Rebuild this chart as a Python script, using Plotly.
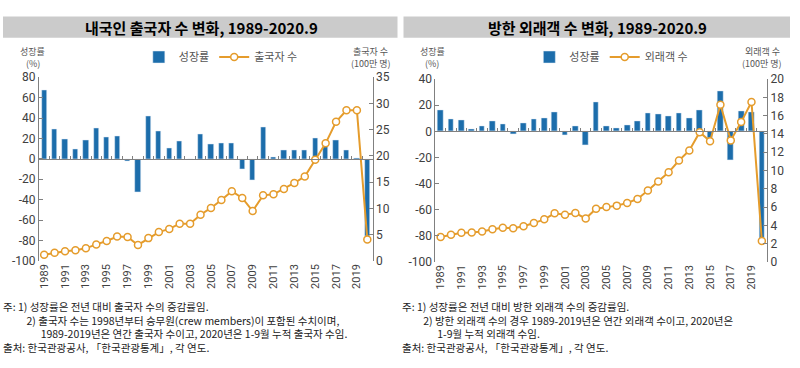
import plotly.graph_objects as go

# ---------------- data ----------------
years = list(range(1989, 2021))
year_ticks = list(range(1989, 2020, 2))
year_ticklabels = [str(y) for y in year_ticks]

out_growth = [67.5, 29, 19, 9.5, 18.5, 30.5, 21, 22, -2.5, -32.5, 41.5, 27, 10, 17, -0.5,
              24.5, 14.5, 15, 15, -10, -21, 31.5, 1.5, 8, 8, 8.5, 20.5, 15, 18.5, 8.5, 0.2, -76]
out_count = [1.2, 1.55, 1.85, 2.05, 2.4, 3.15, 3.8, 4.65, 4.55, 3.05, 4.35, 5.5, 6.1, 7.1, 7.1,
             8.8, 10.1, 11.6, 13.3, 12.0, 9.5, 12.5, 12.7, 13.7, 14.85, 16.1, 19.3, 22.4, 26.5,
             28.7, 28.7, 4.1]

in_growth = [16.5, 9, 8.5, 1.5, 4, 8, 5.5, -1.8, 6.5, 9.5, 10, 14.5, -3.2, 4, -10.5, 22.5, 4,
             2.5, 5, 7.5, 14, 13, 12, 14, 10, 16.5, -5, 30.5, -22, 15.5, 14.5, -83]
in_count = [2.73, 2.96, 3.2, 3.23, 3.33, 3.58, 3.75, 3.68, 3.91, 4.25, 4.66, 5.32, 5.15, 5.35,
            4.75, 5.82, 6.02, 6.16, 6.45, 6.89, 7.82, 8.8, 9.8, 11.1, 12.2, 14.2, 13.2, 17.2,
            13.3, 15.3, 17.5, 2.3]

left_growth_ticks = list(range(-100, 81, 20))
left_count_ticks = list(range(0, 36, 5))
right_growth_ticks = list(range(-100, 41, 20))
right_count_ticks = list(range(0, 21, 2))

title_left = "내국인 출국자 수 변화, 1989-2020.9"
title_right = "방한 외래객 수 변화, 1989-2020.9"

NB = "\u00a0"
notes_left = [
    "주: 1) 성장률은 전년 대비 출국자 수의 증감률임.",
    NB * 10 + "2) 출국자 수는 1998년부터 승무원(crew members)이 포함된 수치이며,",
    NB * 16 + "1989-2019년은 연간 출국자 수이고, 2020년은 1-9월 누적 출국자 수임.",
    "출처: 한국관광공사, 「한국관광통계」, 각 연도.",
]
notes_right = [
    "주: 1) 성장률은 전년 대비 방한 외래객 수의 증감률임.",
    NB * 9 + "2) 방한 외래객 수의 경우 1989-2019년은 연간 외래객 수이고, 2020년은",
    NB * 15 + "1-9월 누적 외래객 수임.",
    "출처: 한국관광공사, 「한국관광통계」, 각 연도.",
]

# ---------------- style ----------------
W, H = 800, 368
BAR = "#1c6dab"
LINE = "#e59c2c"
AX = "#808080"
TXT = "#404040"
KFONT = "Noto Sans CJK KR"
NFONT = "Liberation Sans Narrow, Roboto, sans-serif"

def px_x(p):
    return p / W

def px_y(p):
    return 1 - p / H

L_dom_x = [px_x(38), px_x(372)]
L_dom_y = [px_y(264), px_y(73)]
R_dom_x = [px_x(435), px_x(767)]
R_dom_y = [px_y(265), px_y(75)]

half_ticks = [y - 0.5 for y in years] + [years[-1] + 0.5]
xr = [years[0] - 0.5, years[-1] + 0.5]

fig = go.Figure()

# left chart
fig.add_trace(go.Bar(x=years, y=out_growth, name="성장률", marker_color=BAR, width=0.5,
                     xaxis="x", yaxis="y", legend="legend"))
fig.add_trace(go.Scatter(x=[], y=[], xaxis="x3", yaxis="y", showlegend=False, hoverinfo="skip"))
fig.add_trace(go.Scatter(x=years, y=out_count, name="출국자 수", mode="lines+markers",
                         line=dict(color=LINE, width=2),
                         marker=dict(symbol="circle", size=7, color="white",
                                     line=dict(color=LINE, width=1.5)),
                         xaxis="x", yaxis="y2", legend="legend"))

# right chart
fig.add_trace(go.Bar(x=years, y=in_growth, name="성장률", marker_color=BAR, width=0.55,
                     xaxis="x2", yaxis="y3", legend="legend2"))
fig.add_trace(go.Scatter(x=[], y=[], xaxis="x4", yaxis="y3", showlegend=False, hoverinfo="skip"))
fig.add_trace(go.Scatter(x=years, y=in_count, name="외래객 수", mode="lines+markers",
                         line=dict(color=LINE, width=2),
                         marker=dict(symbol="circle", size=7, color="white",
                                     line=dict(color=LINE, width=1.5)),
                         xaxis="x2", yaxis="y4", legend="legend2"))

def xaxis(dom, anchor):
    return dict(domain=dom, anchor=anchor, range=xr, tickmode="array", tickvals=year_ticks,
                ticktext=year_ticklabels, tickangle=-90, ticks="", showline=False,
                showgrid=False, zeroline=False, tickfont=dict(family=NFONT, size=11, color=TXT))

def zero_axis(overlay, dom_y, yrange):
    pos = dom_y[0] + (0 - yrange[0]) / (yrange[1] - yrange[0]) * (dom_y[1] - dom_y[0])
    return dict(overlaying=overlay, anchor="free", position=pos, range=xr, showline=True,
                linecolor=AX, linewidth=1, ticks="inside", ticklen=3, tickcolor=AX,
                tickmode="array", tickvals=half_ticks, showticklabels=False, showgrid=False,
                zeroline=False)

def yaxis(dom, anchor, rng, ticks, side="left", overlay=None):
    d = dict(domain=dom, anchor=anchor, range=rng, tickmode="array", tickvals=ticks,
             ticktext=[str(t) for t in ticks], side=side, showline=True, linecolor=AX,
             linewidth=1, ticks="inside", ticklen=4, tickcolor=AX, showgrid=False,
             zeroline=False, tickfont=dict(family=NFONT, size=12, color=TXT))
    if overlay:
        d["overlaying"] = overlay
    return d

L_yr = [-100, 80]
R_yr = [-100, 40]

fig.update_layout(
    width=W, height=H, margin=dict(l=0, r=0, t=0, b=0),
    paper_bgcolor="white", plot_bgcolor="rgba(0,0,0,0)",
    showlegend=True, bargap=0,
    xaxis=xaxis(L_dom_x, "y"),
    xaxis2=xaxis(R_dom_x, "y3"),
    xaxis3=zero_axis("x", L_dom_y, L_yr),
    xaxis4=zero_axis("x2", R_dom_y, R_yr),
    yaxis=yaxis(L_dom_y, "x", L_yr, left_growth_ticks),
    yaxis2=yaxis(L_dom_y, "x", [0, 35], left_count_ticks, side="right", overlay="y"),
    yaxis3=yaxis(R_dom_y, "x2", R_yr, right_growth_ticks),
    yaxis4=yaxis(R_dom_y, "x2", [0, 20], right_count_ticks, side="right", overlay="y3"),
    legend=dict(orientation="h", x=px_x(138), y=px_y(52), xanchor="left", yanchor="middle",
                font=dict(family=KFONT, size=11, color="#555"), bgcolor="rgba(0,0,0,0)",
                itemwidth=30),
    legend2=dict(orientation="h", x=px_x(529), y=px_y(52), xanchor="left", yanchor="middle",
                 font=dict(family=KFONT, size=11, color="#555"), bgcolor="rgba(0,0,0,0)",
                 itemwidth=30),
)

# title bands
fig.add_shape(type="rect", xref="paper", yref="paper", x0=px_x(2), x1=px_x(397),
              y0=px_y(32), y1=px_y(10), fillcolor="#cbcbcb", line_width=0, layer="below")
fig.add_shape(type="rect", xref="paper", yref="paper", x0=px_x(403), x1=px_x(790),
              y0=px_y(32), y1=px_y(10), fillcolor="#cbcbcb", line_width=0, layer="below")

for t, xp in [(title_left, 201), (title_right, 597)]:
    fig.add_annotation(text="<b>" + t + "</b>", x=px_x(xp), y=px_y(21), xref="paper",
                       yref="paper", xanchor="center", yanchor="middle", showarrow=False,
                       font=dict(family=KFONT, size=15, color="black"))

axis_titles = [
    ("성장률", "(%)", 32), ("출국자 수", "(100만 명)", 370),
    ("성장률", "(%)", 432), ("외래객 수", "(100만 명)", 762),
]
for t1, t2, xp in axis_titles:
    for t, yp in [(t1, 46), (t2, 59)]:
        fig.add_annotation(text=t, x=px_x(xp), y=px_y(yp), xref="paper", yref="paper",
                           xanchor="center", yanchor="middle", showarrow=False, borderpad=0,
                           font=dict(family=KFONT, size=9, color="#555"))

for lines, xp in [(notes_left, 1), (notes_right, 401)]:
    fig.add_annotation(text="<br>".join(lines), x=px_x(xp), y=px_y(302), xref="paper",
                       yref="paper", xanchor="left", yanchor="top", align="left",
                       showarrow=False, borderpad=0,
                       font=dict(family=KFONT, size=10.5, color="#222"))

fig.write_html("out.html", post_script="document.body.style.margin='0';",
               config={"displayModeBar": False})
